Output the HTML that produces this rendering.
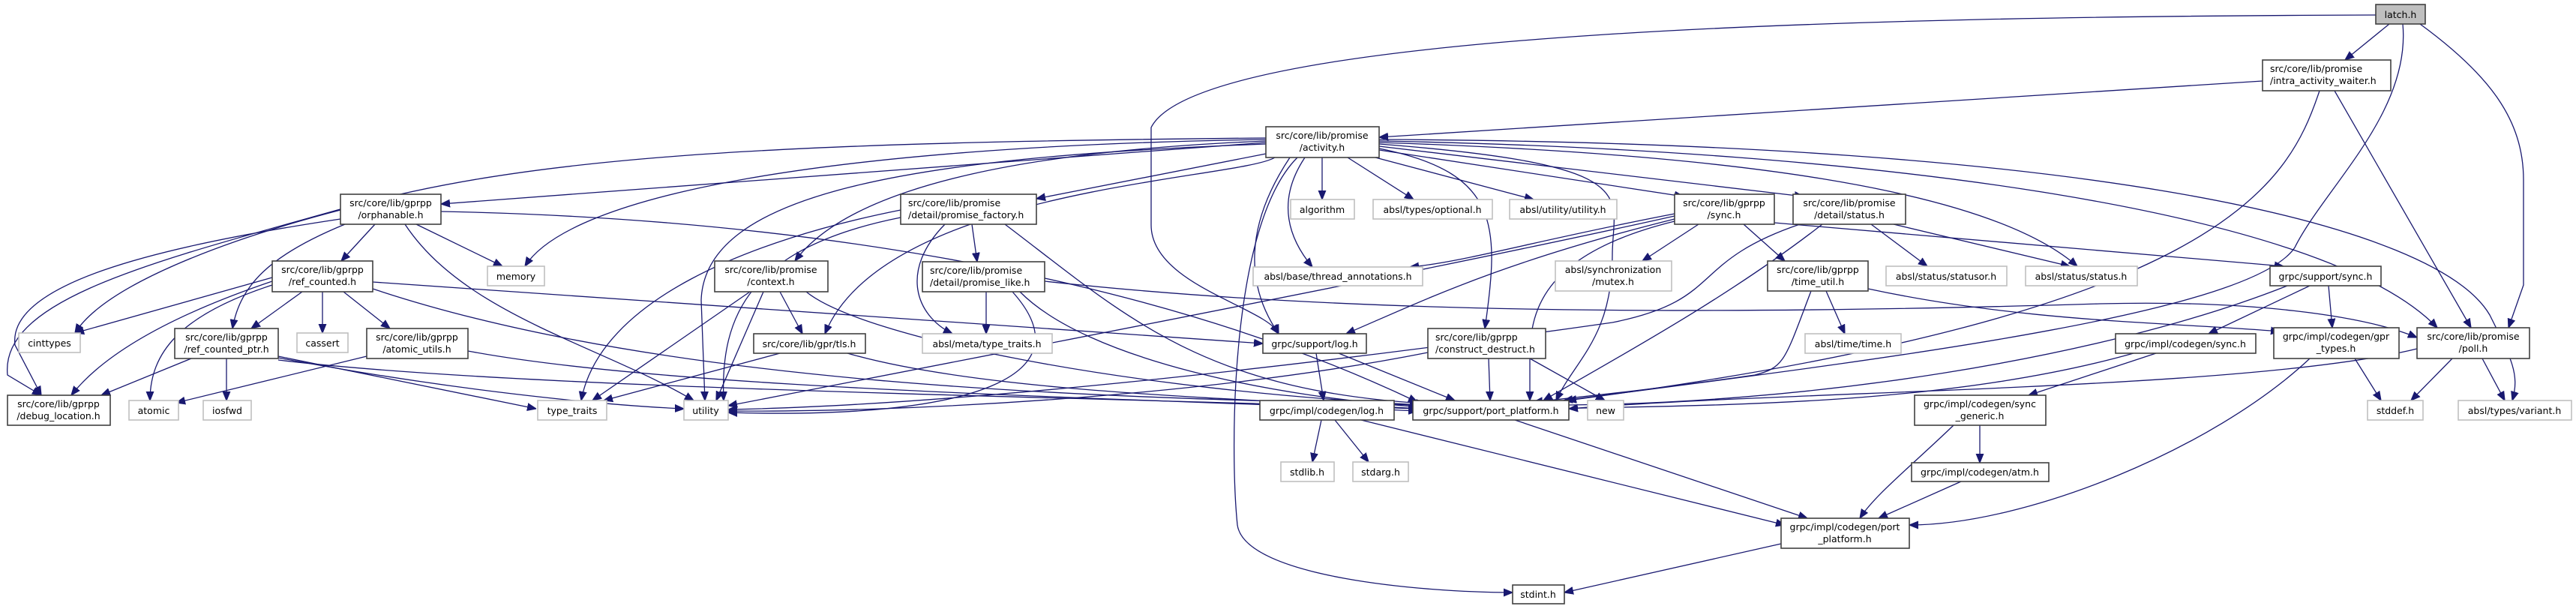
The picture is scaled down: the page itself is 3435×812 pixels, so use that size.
<!DOCTYPE html>
<html><head><meta charset="utf-8">
<style>
html,body{margin:0;padding:0;background:#fff;}
svg{display:block;}
text{font-family:"DejaVu Sans","Liberation Sans",sans-serif;font-size:12.5px;fill:#000;}
.n{fill:#fff;stroke:#404040;stroke-width:1.6;}
.x{fill:#fff;stroke:#bfbfbf;stroke-width:1.6;}
.e{fill:none;stroke:#191970;stroke-width:1.3;}
</style></head>
<body>
<svg width="3435" height="812" viewBox="0 0 3435 812" xmlns="http://www.w3.org/2000/svg">
<defs>
<marker id="a" viewBox="0 0 10 10" refX="10" refY="5" markerWidth="12" markerHeight="12" markerUnits="userSpaceOnUse" orient="auto">
<path d="M0,1 L10,5 L0,9 z" fill="#191970" stroke="#191970"/>
</marker>
</defs>
<g class="e" marker-end="url(#a)">
<!-- latch -->
<path d="M3168,20 C2500,22 1600,40 1535,170 L1535,300 C1535,380 1690,410 1705,445"/>
<path d="M3186,32 L3127,80"/>
<path d="M3204,32 C3215,150 3100,250 3060,330 C3000,420 2500,480 2085,534"/>
<path d="M3227,32 C3320,100 3365,160 3365,240 L3365,380 3345,437"/>
<!-- iaw -->
<path d="M3017,108 L1839,183"/>
<path d="M3093,121 C3050,250 2960,420 2090,534"/>
<path d="M3113,121 L3295,437"/>
<!-- activity -->
<path d="M1763,210 L1763,266"/>
<path d="M1797,210 L1885,266"/>
<path d="M1834,210 L2045,266"/>
<path d="M1839,200 L2245,262"/>
<path d="M1839,195 L2405,262"/>
<path d="M1688,190 L588,272"/>
<path d="M1688,205 L1382,265"/>
<path d="M1688,188 C1400,200 1140,240 1060,348"/>
<path d="M1700,210 C1650,240 1180,250 1100,445"/>
<path d="M1720,210 C1660,300 1660,380 1705,445"/>
<path d="M1740,210 C1700,270 1720,320 1750,356"/>
<path d="M1688,192 C1200,210 940,260 935,400 L940,534"/>
<path d="M1688,186 C1100,195 760,260 700,355"/>
<path d="M1688,184 C1000,190 700,210 450,280 C200,350 0,400 10,500 L55,527"/>
<path d="M1839,190 C2300,205 2650,250 2770,355"/>
<path d="M1839,188 C2500,200 3100,280 3250,437"/>
<path d="M1839,186 C2800,190 3250,300 3320,420 C3350,480 3360,500 3350,534"/>
<path d="M1839,192 C2200,220 2150,260 2150,340 C2150,450 2100,480 2075,534"/>
<path d="M1730,210 C1640,300 1640,600 1650,700 C1660,770 1900,790 2017,790"/>
<path d="M1839,198 C2000,230 2000,300 1980,438"/>
<!-- orphanable -->
<path d="M500,299 L455,348"/>
<path d="M555,299 L670,355"/>
<path d="M540,299 C620,420 800,460 925,534"/>
<path d="M460,299 C360,340 320,380 310,438"/>
<path d="M454,280 C300,320 140,380 100,444"/>
<path d="M454,292 C200,330 10,380 20,460 L55,527"/>
<path d="M588,282 C1000,290 1500,350 1890,536"/>
<!-- refcounted -->
<path d="M403,389 L335,438"/>
<path d="M430,389 L430,444"/>
<path d="M458,389 L520,438"/>
<path d="M363,370 L100,444"/>
<path d="M363,375 C230,420 140,470 95,527"/>
<path d="M363,380 C240,420 200,470 200,534"/>
<path d="M497,376 L1684,458"/>
<path d="M497,385 C900,520 1500,530 1892,540"/>
<!-- refptr -->
<path d="M255,478 L135,527"/>
<path d="M302,478 L302,534"/>
<path d="M371,475 L715,545"/>
<path d="M371,477 C600,520 800,540 912,545"/>
<path d="M371,480 C700,520 1500,530 1890,545"/>
<!-- atomic utils -->
<path d="M489,475 L235,537"/>
<path d="M624,468 C900,520 1500,530 1890,548"/>
<!-- context -->
<path d="M1040,389 L1070,445"/>
<path d="M1000,389 L790,534"/>
<path d="M1018,389 L955,534"/>
<path d="M1075,389 C1150,450 1500,520 1895,540"/>
<!-- tls -->
<path d="M1040,471 L805,534"/>
<path d="M1130,471 C1300,520 1600,530 1895,545"/>
<!-- promise_factory -->
<path d="M1296,299 L1303,349"/>
<path d="M1260,299 C1200,360 1220,420 1270,445"/>
<path d="M1201,280 C1000,320 800,400 775,534"/>
<path d="M1201,290 C1000,330 960,420 965,534"/>
<path d="M1340,299 C1500,420 1600,520 1900,538"/>
<!-- promise_like -->
<path d="M1315,389 L1315,445"/>
<path d="M1350,389 C1450,500 1300,560 971,550"/>
<path d="M1360,389 C1450,480 1700,530 1900,543"/>
<path d="M1393,375 C1800,420 2300,420 2800,405 C3000,400 3150,420 3223,450"/>
<!-- log -->
<path d="M1755,471 L1765,534"/>
<path d="M1785,471 L1940,534"/>
<!-- clog -->
<path d="M1762,560 L1750,616"/>
<path d="M1780,560 L1825,616"/>
<path d="M1815,560 L2380,700"/>
<!-- pport -->
<path d="M2020,560 L2410,691"/>
<!-- construct -->
<path d="M1904,470 C1600,530 1200,550 971,548"/>
<path d="M2040,478 L2140,534"/>
<path d="M1985,478 L1987,534"/>
<!-- gsync -->
<path d="M2233,285 C2050,320 1950,350 1880,356"/>
<path d="M2265,299 L2190,348"/>
<path d="M2325,299 L2380,348"/>
<path d="M2233,292 C2000,350 1900,400 1795,445"/>
<path d="M2366,297 L3045,355"/>
<path d="M2233,295 C2050,340 2040,420 2040,480 L2040,534"/>
<path d="M2233,288 C2000,340 1700,400 971,541"/>
<!-- dstatus -->
<path d="M2495,299 L2570,355"/>
<path d="M2525,299 L2760,355"/>
<path d="M2430,299 C2300,400 2150,480 2058,534"/>
<path d="M2400,299 C2250,350 2300,400 2150,430 C1800,480 1300,540 971,546"/>
<!-- time_util -->
<path d="M2435,388 L2460,445"/>
<path d="M2491,385 C2700,430 2900,430 3040,442"/>
<path d="M2415,388 C2380,480 2380,490 2340,500 C2200,520 2100,530 2045,536"/>
<!-- supsync -->
<path d="M3080,381 L2945,445"/>
<path d="M3105,381 L3110,437"/>
<path d="M3050,381 C2800,480 2400,540 2070,540"/>
<!-- csync -->
<path d="M2875,471 L2705,527"/>
<path d="M2845,471 C2600,540 2300,540 2062,545"/>
<!-- sync_generic -->
<path d="M2640,567 L2640,617"/>
<path d="M2605,567 C2550,620 2500,660 2480,691"/>
<!-- atm -->
<path d="M2615,642 L2505,691"/>
<!-- gpr_types -->
<path d="M3140,478 L3175,534"/>
<path d="M3080,478 C2950,600 2700,700 2546,700"/>
<!-- poll -->
<path d="M3270,478 L3215,534"/>
<path d="M3310,478 L3340,534"/>
<path d="M3223,465 C3000,520 2400,520 2092,545"/>
<!-- cport -->
<path d="M2375,725 L2086,790"/>
</g>

<!-- nodes -->
<rect x="3168" y="6" width="66" height="26" fill="#bfbfbf" stroke="#404040" stroke-width="1.6"/>
<text x="3201" y="24" text-anchor="middle">latch.h</text>

<rect class="n" x="3017" y="80" width="171" height="41"/>
<text x="3027" y="96">src/core/lib/promise</text><text x="3027" y="112">/intra_activity_waiter.h</text>

<rect class="n" x="1688" y="169" width="151" height="41"/>
<text x="1763" y="185" text-anchor="middle">src/core/lib/promise</text><text x="1763" y="201" text-anchor="middle">/activity.h</text>

<rect class="n" x="454" y="259" width="134" height="40"/>
<text x="521" y="275" text-anchor="middle">src/core/lib/gprpp</text><text x="521" y="291" text-anchor="middle">/orphanable.h</text>

<rect class="n" x="1201" y="259" width="181" height="40"/>
<text x="1211" y="275">src/core/lib/promise</text><text x="1211" y="291">/detail/promise_factory.h</text>

<rect class="n" x="2233" y="259" width="133" height="40"/>
<text x="2299" y="275" text-anchor="middle">src/core/lib/gprpp</text><text x="2299" y="291" text-anchor="middle">/sync.h</text>

<rect class="n" x="2391" y="259" width="150" height="40"/>
<text x="2466" y="275" text-anchor="middle">src/core/lib/promise</text><text x="2466" y="291" text-anchor="middle">/detail/status.h</text>

<rect class="x" x="1721" y="266" width="85" height="26"/><text x="1763" y="284" text-anchor="middle">algorithm</text>
<rect class="x" x="1831" y="266" width="159" height="26"/><text x="1910" y="284" text-anchor="middle">absl/types/optional.h</text>
<rect class="x" x="2013" y="266" width="143" height="26"/><text x="2084" y="284" text-anchor="middle">absl/utility/utility.h</text>

<rect class="n" x="363" y="348" width="134" height="41"/>
<text x="430" y="364" text-anchor="middle">src/core/lib/gprpp</text><text x="430" y="380" text-anchor="middle">/ref_counted.h</text>

<rect class="x" x="650" y="355" width="76" height="26"/><text x="688" y="373" text-anchor="middle">memory</text>

<rect class="n" x="953" y="348" width="151" height="41"/>
<text x="1028" y="364" text-anchor="middle">src/core/lib/promise</text><text x="1028" y="380" text-anchor="middle">/context.h</text>

<rect class="n" x="1230" y="349" width="163" height="40"/>
<text x="1240" y="365">src/core/lib/promise</text><text x="1240" y="381">/detail/promise_like.h</text>

<rect class="x" x="1671" y="356" width="226" height="25"/><text x="1784" y="373" text-anchor="middle">absl/base/thread_annotations.h</text>

<rect class="x" x="2074" y="348" width="155" height="40"/>
<text x="2151" y="364" text-anchor="middle">absl/synchronization</text><text x="2151" y="380" text-anchor="middle">/mutex.h</text>

<rect class="n" x="2357" y="348" width="134" height="40"/>
<text x="2424" y="364" text-anchor="middle">src/core/lib/gprpp</text><text x="2424" y="380" text-anchor="middle">/time_util.h</text>

<rect class="x" x="2515" y="355" width="161" height="26"/><text x="2595" y="373" text-anchor="middle">absl/status/statusor.h</text>
<rect class="x" x="2701" y="355" width="149" height="26"/><text x="2775" y="373" text-anchor="middle">absl/status/status.h</text>
<rect class="n" x="3027" y="355" width="148" height="26"/><text x="3101" y="373" text-anchor="middle">grpc/support/sync.h</text>

<rect class="x" x="25" y="444" width="82" height="26"/><text x="66" y="462" text-anchor="middle">cinttypes</text>

<rect class="n" x="233" y="438" width="138" height="40"/>
<text x="302" y="454" text-anchor="middle">src/core/lib/gprpp</text><text x="302" y="470" text-anchor="middle">/ref_counted_ptr.h</text>

<rect class="x" x="396" y="444" width="68" height="26"/><text x="430" y="462" text-anchor="middle">cassert</text>

<rect class="n" x="489" y="438" width="135" height="40"/>
<text x="556" y="454" text-anchor="middle">src/core/lib/gprpp</text><text x="556" y="470" text-anchor="middle">/atomic_utils.h</text>

<rect class="n" x="1005" y="445" width="149" height="26"/><text x="1079" y="463" text-anchor="middle">src/core/lib/gpr/tls.h</text>
<rect class="x" x="1230" y="445" width="173" height="26"/><text x="1316" y="463" text-anchor="middle">absl/meta/type_traits.h</text>
<rect class="n" x="1684" y="445" width="138" height="26"/><text x="1753" y="463" text-anchor="middle">grpc/support/log.h</text>

<rect class="n" x="1904" y="438" width="157" height="40"/>
<text x="1914" y="454">src/core/lib/gprpp</text><text x="1914" y="470">/construct_destruct.h</text>

<rect class="x" x="2407" y="445" width="128" height="26"/><text x="2471" y="463" text-anchor="middle">absl/time/time.h</text>
<rect class="n" x="2821" y="445" width="187" height="26"/><text x="2914" y="463" text-anchor="middle">grpc/impl/codegen/sync.h</text>

<rect class="n" x="3032" y="437" width="167" height="41"/>
<text x="3115" y="453" text-anchor="middle">grpc/impl/codegen/gpr</text><text x="3115" y="469" text-anchor="middle">_types.h</text>

<rect class="n" x="3223" y="437" width="150" height="41"/>
<text x="3298" y="453" text-anchor="middle">src/core/lib/promise</text><text x="3298" y="469" text-anchor="middle">/poll.h</text>

<rect class="n" x="10" y="527" width="137" height="40"/>
<text x="78" y="543" text-anchor="middle">src/core/lib/gprpp</text><text x="78" y="559" text-anchor="middle">/debug_location.h</text>

<rect class="x" x="172" y="534" width="66" height="26"/><text x="205" y="552" text-anchor="middle">atomic</text>
<rect class="x" x="271" y="534" width="64" height="26"/><text x="303" y="552" text-anchor="middle">iosfwd</text>
<rect class="x" x="717" y="534" width="92" height="26"/><text x="763" y="552" text-anchor="middle">type_traits</text>
<rect class="x" x="912" y="534" width="59" height="26"/><text x="941" y="552" text-anchor="middle">utility</text>
<rect class="n" x="1680" y="534" width="179" height="26"/><text x="1769" y="552" text-anchor="middle">grpc/impl/codegen/log.h</text>
<rect class="n" x="1884" y="534" width="208" height="26"/><text x="1988" y="552" text-anchor="middle">grpc/support/port_platform.h</text>
<rect class="x" x="2117" y="534" width="48" height="26"/><text x="2141" y="552" text-anchor="middle">new</text>

<rect class="n" x="2553" y="527" width="175" height="40"/>
<text x="2640" y="543" text-anchor="middle">grpc/impl/codegen/sync</text><text x="2640" y="559" text-anchor="middle">_generic.h</text>

<rect class="x" x="3157" y="534" width="74" height="26"/><text x="3194" y="552" text-anchor="middle">stddef.h</text>
<rect class="x" x="3278" y="534" width="151" height="26"/><text x="3353" y="552" text-anchor="middle">absl/types/variant.h</text>

<rect class="x" x="1708" y="616" width="71" height="26"/><text x="1743" y="634" text-anchor="middle">stdlib.h</text>
<rect class="x" x="1804" y="616" width="74" height="26"/><text x="1841" y="634" text-anchor="middle">stdarg.h</text>
<rect class="n" x="2549" y="617" width="183" height="25"/><text x="2640" y="634" text-anchor="middle">grpc/impl/codegen/atm.h</text>

<rect class="n" x="2375" y="691" width="171" height="40"/>
<text x="2460" y="707" text-anchor="middle">grpc/impl/codegen/port</text><text x="2460" y="723" text-anchor="middle">_platform.h</text>

<rect class="n" x="2017" y="780" width="69" height="25"/><text x="2051" y="797" text-anchor="middle">stdint.h</text>
</svg>
</body></html>
